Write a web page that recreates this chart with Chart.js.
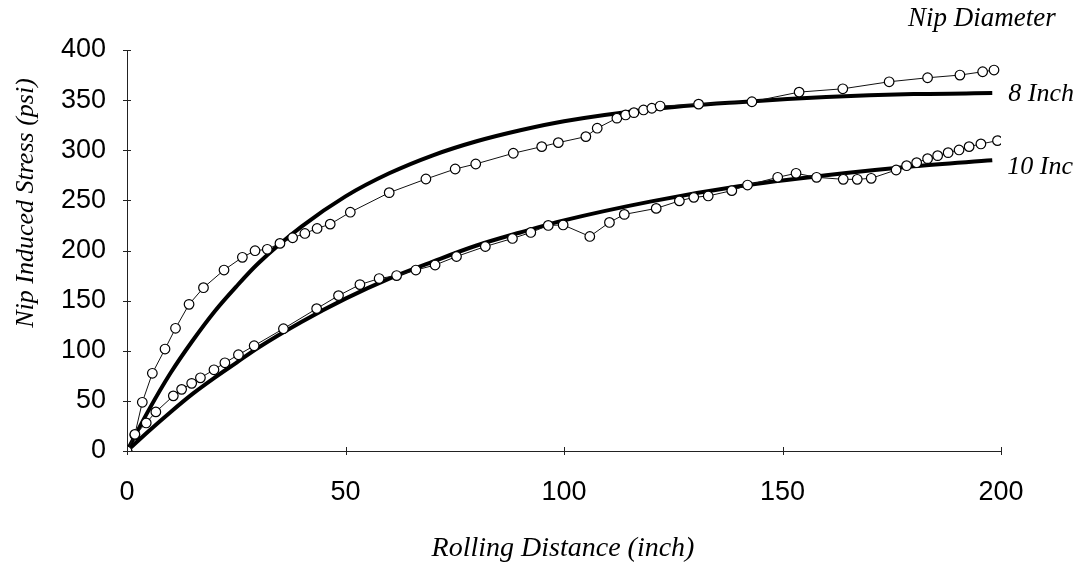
<!DOCTYPE html>
<html>
<head>
<meta charset="utf-8">
<script src="https://cdn.jsdelivr.net/npm/chart.js@4/dist/chart.umd.min.js"></script>
<style>
  html, body { margin: 0; padding: 0; background: #fff; }
  #wrap { width: 1091px; height: 564px; }
</style>
</head>
<body>
<div id="wrap"><canvas id="c" width="1091" height="564"></canvas></div>
<script>
// ---- data ----
const xTicks = [0, 50, 100, 150, 200];
const yTicks = [0, 50, 100, 150, 200, 250, 300, 350, 400];

// measured points, 8 inch nip
const dist8 = [0, 1.8, 3.5, 5.8, 8.7, 11.1, 14.2, 17.5, 22.2, 26.4, 29.3, 32.1, 35.0, 37.9, 40.7, 43.5, 46.5, 51.1, 60.0, 68.4, 75.1, 79.8, 88.4, 94.9, 98.7, 105.0, 107.6, 112.1, 114.1, 116.0, 118.2, 120.1, 122.0, 130.8, 143.0, 153.8, 163.8, 174.4, 183.2, 190.6, 195.8, 198.4];
const stress8 = [0, 16.6, 48.6, 77.5, 101.7, 122.4, 146.3, 162.9, 180.5, 193.2, 199.8, 201.2, 207.1, 212.7, 217.0, 222.0, 226.3, 238.2, 257.7, 271.3, 281.3, 286.3, 297.0, 303.6, 307.6, 313.6, 322.0, 332.0, 335.2, 337.5, 340.2, 341.9, 344.1, 346.0, 348.4, 358.0, 361.3, 368.3, 372.3, 375.0, 378.3, 380.0];

// measured points, 10 inch nip
const dist10 = [0, 1.8, 4.4, 6.6, 10.6, 12.5, 14.8, 16.8, 19.9, 22.4, 25.5, 29.1, 35.8, 43.4, 48.4, 53.3, 57.7, 61.7, 66.1, 70.5, 75.4, 82.0, 88.2, 92.4, 96.4, 99.8, 105.9, 110.4, 113.8, 121.1, 126.4, 129.7, 133.0, 138.4, 142.0, 148.9, 153.1, 157.8, 163.9, 167.1, 170.3, 176.0, 178.4, 180.7, 183.2, 185.5, 187.9, 190.4, 192.7, 195.4, 199.2];
const stress10 = [0, 16.0, 28.0, 39.0, 55.0, 61.5, 67.5, 73.0, 81.0, 88.0, 96.0, 105.0, 122.0, 142.0, 155.0, 166.0, 172.0, 175.0, 180.5, 185.5, 194.0, 204.0, 212.0, 218.0, 225.0, 225.5, 214.0, 228.0, 236.0, 242.0, 249.5, 253.0, 254.4, 259.7, 265.3, 273.0, 277.0, 273.0, 271.0, 271.0, 272.0, 280.3, 284.6, 287.6, 291.6, 294.6, 297.6, 300.3, 303.6, 306.3, 309.6];

// smooth fitted curves
const fitX = [0, 5, 10, 15, 20, 25, 30, 40, 50, 60, 70, 80, 90, 100, 120, 140, 160, 180, 198];
const fit8 = [0, 41, 78, 110, 139, 164, 187, 224, 254, 277, 295, 309, 320, 329, 341, 348, 353, 356, 357];
const fit10 = [0, 20, 39, 57, 73, 88, 103, 129, 152, 172, 189, 205, 218, 230, 249, 264, 275, 284, 290];

const seriesNames = ['8 Inch', '10 Inc'];
const legendTitle = 'Nip Diameter';
const xTitle = 'Rolling Distance (inch)';
const yTitle = 'Nip Induced Stress (psi)';

const pts = (xs, ys) => xs.map((v, i) => ({x: v, y: ys[i]}));

const decor = {
  id: 'decor',
  afterDraw(chart) {
    const {ctx, scales: {x, y}} = chart;
    ctx.save();
    // tick marks crossing the axes
    ctx.strokeStyle = '#222';
    ctx.lineWidth = 1;
    yTicks.forEach(v => {
      const py = Math.round(y.getPixelForValue(v)) + 0.5;
      ctx.beginPath(); ctx.moveTo(x.left - 4, py); ctx.lineTo(x.left + 4, py); ctx.stroke();
    });
    xTicks.forEach(v => {
      const px = Math.round(x.getPixelForValue(v)) + 0.5;
      ctx.beginPath(); ctx.moveTo(px, y.bottom - 4); ctx.lineTo(px, y.bottom + 4); ctx.stroke();
    });
    ctx.fillStyle = '#000';
    // legend title
    ctx.font = 'italic 27px "Liberation Serif", "Times New Roman", serif';
    ctx.textAlign = 'left';
    ctx.textBaseline = 'alphabetic';
    ctx.fillText(legendTitle, 908, 26);
    // series labels at the end of the fitted curves
    ctx.font = 'italic 26px "Liberation Serif", "Times New Roman", serif';
    const xe = x.getPixelForValue(fitX[fitX.length - 1]);
    ctx.fillText(seriesNames[0], xe + 16, y.getPixelForValue(fit8[fit8.length - 1]) + 8);
    ctx.fillText(seriesNames[1], xe + 15, y.getPixelForValue(fit10[fit10.length - 1]) + 14);
    // axis titles
    ctx.textAlign = 'center';
    ctx.font = 'italic 28px "Liberation Serif", "Times New Roman", serif';
    ctx.fillText(xTitle, 563, 556);
    ctx.font = 'italic 26px "Liberation Serif", "Times New Roman", serif';
    ctx.translate(33, 203);
    ctx.rotate(-Math.PI / 2);
    ctx.fillText(yTitle, 0, 0);
    ctx.restore();
  }
};

new Chart(document.getElementById('c'), {
  type: 'scatter',
  data: {
    datasets: [
      { label: seriesNames[0] + ' data', data: pts(dist8, stress8), showLine: true, order: 0,
        borderColor: '#111', borderWidth: 1, backgroundColor: '#fff',
        pointRadius: 4.8, pointBorderWidth: 1.2, pointBorderColor: '#000', pointBackgroundColor: '#fff', tension: 0 },
      { label: seriesNames[1] + ' data', data: pts(dist10, stress10), showLine: true, order: 0,
        borderColor: '#111', borderWidth: 1, backgroundColor: '#fff',
        pointRadius: 4.8, pointBorderWidth: 1.2, pointBorderColor: '#000', pointBackgroundColor: '#fff', tension: 0 },
      { label: seriesNames[0] + ' fit', data: pts(fitX, fit8), showLine: true, order: 1,
        borderColor: '#000', borderWidth: 4, pointRadius: 0, cubicInterpolationMode: 'monotone' },
      { label: seriesNames[1] + ' fit', data: pts(fitX, fit10), showLine: true, order: 1,
        borderColor: '#000', borderWidth: 4, pointRadius: 0, cubicInterpolationMode: 'monotone' }
    ]
  },
  options: {
    responsive: false,
    animation: false,
    layout: { padding: { left: 0, right: 90, top: 50, bottom: 0 } },
    plugins: { legend: { display: false }, tooltip: { enabled: false } },
    scales: {
      x: {
        type: 'linear', min: 0, max: 200,
        afterBuildTicks: s => { s.ticks = xTicks.map(v => ({value: v})); },
        afterFit: s => { s.height = 113; },
        grid: { drawOnChartArea: false, drawTicks: false },
        border: { display: true, color: '#222', width: 1 },
        ticks: { padding: 25, color: '#000', maxRotation: 0,
                 font: { family: '"Liberation Sans", Arial, sans-serif', size: 27 } }
      },
      y: {
        type: 'linear', min: 0, max: 400,
        afterBuildTicks: s => { s.ticks = yTicks.map(v => ({value: v})); },
        afterFit: s => { s.width = 127; },
        grid: { drawOnChartArea: false, drawTicks: false },
        border: { display: true, color: '#222', width: 1 },
        ticks: { padding: 21, color: '#000',
                 font: { family: '"Liberation Sans", Arial, sans-serif', size: 27 } }
      }
    }
  },
  plugins: [decor]
});
</script>
</body>
</html>
